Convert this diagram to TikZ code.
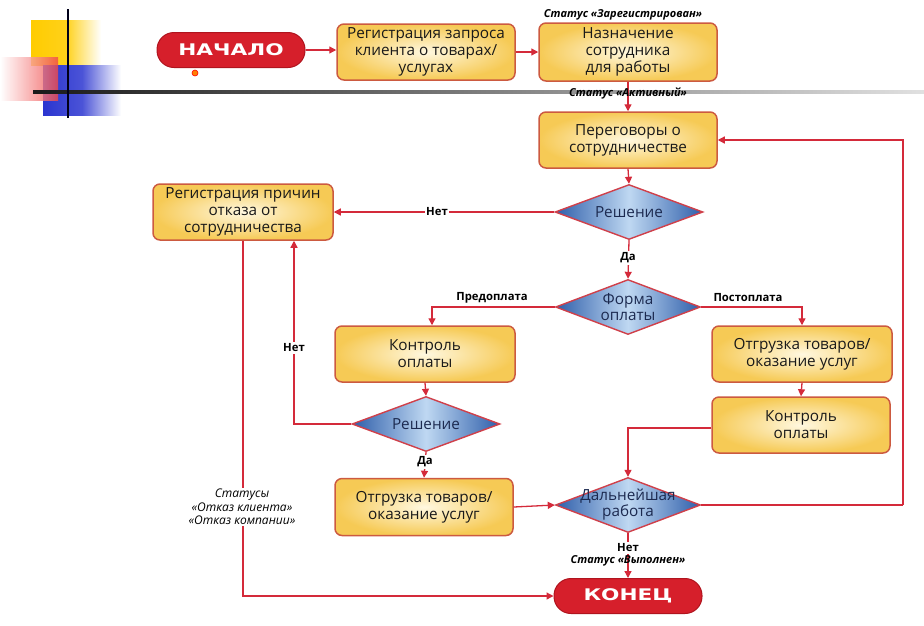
\documentclass[tikz,border=0pt]{standalone}
\usepackage{fontspec}
\setmainfont{Open Sans}
\newfontfamily\termfont[FakeStretch=1.35]{DejaVu Sans}
\usetikzlibrary{shapes.geometric,arrows.meta}
\definecolor{boxin}{HTML}{FFF8E0}
\definecolor{boxout}{HTML}{F6CA55}
\definecolor{boxborder}{HTML}{CC5A40}
\definecolor{decdark}{HTML}{2E5EAA}
\definecolor{declight}{HTML}{BFD8F2}
\definecolor{decborder}{HTML}{D0404A}
\definecolor{dectxt}{HTML}{1C2A50}
\definecolor{linered}{HTML}{D42A3A}
\definecolor{termred}{HTML}{D61F2B}
\definecolor{termdark}{HTML}{B0141E}
\definecolor{decoyellow}{HTML}{FFCC00}
\definecolor{decoblue}{HTML}{2B35D0}
\definecolor{decored}{HTML}{F04848}
\begin{document}
\begin{tikzpicture}[x=1pt,y=-1pt,
  box/.style={draw=boxborder, line width=1.5pt, rounded corners=7pt,
    inner color=boxin, outer color=boxout, minimum width=178pt,
    minimum height=56pt, align=center, inner sep=1pt, text=black!90,
    font=\fontsize{15.3}{16.8}\selectfont},
  dec/.style={diamond, draw=decborder, line width=1.4pt,
    left color=decdark, right color=decdark, middle color=declight,
    minimum width=148pt, minimum height=55pt, inner sep=0pt},
  dectext/.style={align=center, inner sep=0pt, text=dectxt, font=\fontsize{15.3}{16}\selectfont},
  term/.style={draw=termdark, line width=1pt, fill=termred, rounded corners=17pt,
    minimum width=148pt, minimum height=35pt, text=white,
    font=\termfont\bfseries\fontsize{16}{16}\selectfont},
  conn/.style={draw=linered, line width=1.3pt, -{Triangle[length=7pt,width=7pt]}},
  plain/.style={draw=linered, line width=1.3pt},
  lbl/.style={fill=white, inner sep=1.5pt, font=\bfseries\fontsize{11.3}{13}\selectfont},
  stat/.style={fill=white, inner sep=1pt, align=center,
    font=\bfseries\itshape\fontsize{11}{13}\selectfont},
  stat2/.style={fill=white, inner sep=1pt, align=center,
    font=\itshape\fontsize{12}{13.5}\selectfont}
]
\useasboundingbox (0,0) rectangle (924,625);
% decoration
\shade[left color=decoyellow, right color=white, middle color=decoyellow!90] (31,20) rectangle (101,65);
\shade[left color=decoblue, right color=white, middle color=decoblue!85] (43,65) rectangle (121,115);
\shade[left color=white, right color=decored, opacity=0.8] (0,57) rectangle (58,100);
\shade[left color=black!90, right color=black!12] (33,90.5) rectangle (924,93.5);
\draw[line width=2.2pt, color=black!90!blue] (68,9) -- (68,118);

% nodes
\node[term] (start) at (231,50) {НАЧАЛО};
\node[circle, fill=orange, draw=red, line width=0.6pt, inner sep=0pt, minimum size=6pt] (dot) at (195,73) {};
\node[box] (reg) at (426,52) {Регистрация запроса\\клиента о товарах/\\услугах};
\node[box, minimum height=58pt] (assign) at (628,52) {Назначение\\сотрудника\\для работы};
\node[box] (neg) at (628,140) {Переговоры о\\сотрудничестве};
\node[dec] (d1) at (629,212) {};
\node[dectext] (t1) at (d1.center) {Решение};
\node[box, minimum width=180pt] (rej) at (243,212) {Регистрация причин\\отказа от\\сотрудничества};
\node[dec, minimum width=145pt] (d2) at (628,307) {};
\node[dectext] (t2) at (d2.center) {Форма\\оплаты};
\node[box, minimum width=180pt] (kl) at (425,354) {Контроль\\оплаты};
\node[dec] (d3) at (426,424) {};
\node[dectext] (t3) at (d3.center) {Решение};
\node[box, minimum width=180pt] (sr) at (802,354) {Отгрузка товаров/\\оказание услуг};
\node[box] (cr) at (801,425) {Контроль\\оплаты};
\node[box, minimum height=57pt] (sl) at (424,507) {Отгрузка товаров/\\оказание услуг};
\node[dec, minimum width=145pt] (d4) at (628,505) {};
\node[dectext] (t4) at (d4.center) {Дальнейшая\\работа};
\node[term] (end) at (628,596) {КОНЕЦ};
\coordinate (loop) at (903,505);

% connectors
\draw[conn] (start.east) -- (reg.west |- start.east);
\draw[conn] (reg.east) -- (assign.west);
\draw[conn] (assign.south) -- (neg.north);
\draw[conn] (neg.south) -- (d1.north);
\draw[conn] (d1.west) -- (rej.east);
\draw[conn] (d1.south) -- (d2.north);
\draw[conn] (d2.west) -| ([xshift=7pt]kl.north);
\draw[conn] (d2.east) -| (sr.north);
\draw[conn] (kl.south) -- (d3.north);
\draw[conn] (d3.west) -| ([xshift=51pt]rej.south);
\draw[conn] (d3.south) -- (sl.north);
\draw[conn] (sr.south) -- (cr.north);
\draw[conn] ([yshift=-3pt]cr.west) -| (d4.north);
\draw[conn] (sl.east) -- (d4.west);
\draw[plain] (d4.east) -- (loop);
\draw[conn] (loop) |- (neg.east);
\draw[conn] (d4.south) -- (end.north);
\draw[conn] (rej.south) |- (end.west);

% labels
\node[stat, fill=none] (s1) at (623,15) {Статус «Зарегистрирован»};
\node[stat, fill=none] (s2) at (628,94) {Статус «Активный»};
\node[lbl] (l1) at (437,212) {Нет};
\node[lbl] (l2) at (628,258) {Да};
\node[lbl, fill=none] (l3) at (492,298) {Предоплата};
\node[lbl, fill=none] (l4) at (748,298) {Постоплата};
\node[lbl] (l5) at (294,348) {Нет};
\node[lbl] (l6) at (425,462) {Да};
\node[stat2] (s3) at (242,507) {Статусы\\«Отказ клиента»\\«Отказ компании»};
\node[lbl] (l7) at (628,548) {Нет};
\node[stat, fill=none] (s4) at (628,561) {Статус «Выполнен»};
\end{tikzpicture}
\end{document}
